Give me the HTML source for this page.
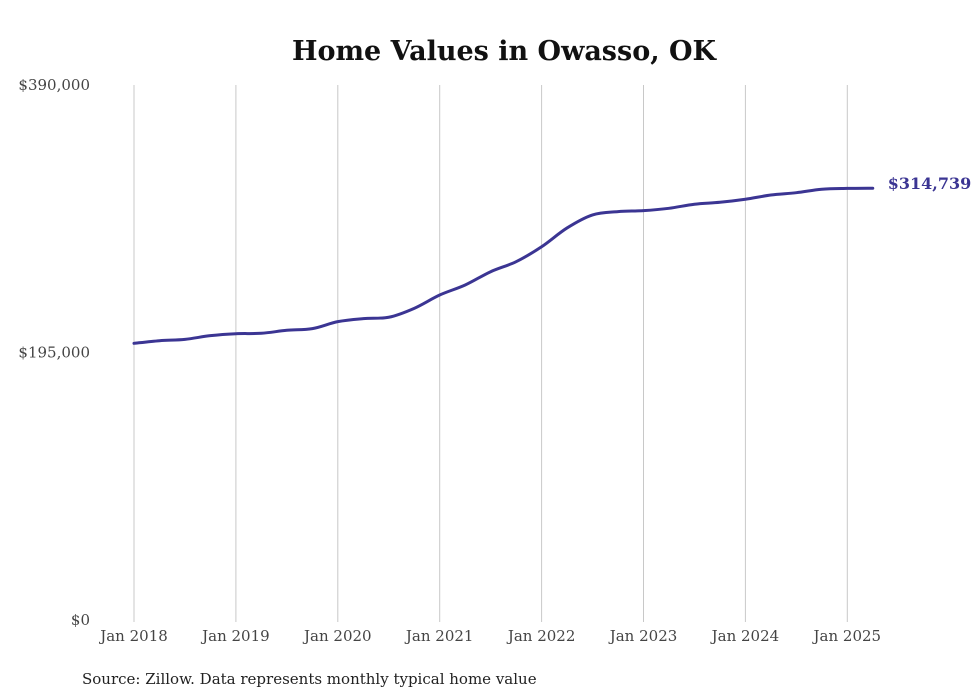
<!DOCTYPE html>
<html><head><meta charset="utf-8"><style>
html,body{margin:0;padding:0;background:#fff;}
svg{display:block;font-family:"DejaVu Serif","Liberation Serif",serif;}
</style></head><body>
<svg id="chart" width="980" height="699">
<text x="504" y="60" text-anchor="middle" font-size="27" font-weight="bold" fill="#111">Home Values in Owasso, OK</text>
<g id="grid"></g><g id="yaxis"></g><g id="xaxis"></g><g id="series"></g>
<text x="82" y="684" font-size="15" fill="#222">Source: Zillow. Data represents monthly typical home value</text>
</svg>
<script>
const yTickValues=[0,195000,390000];
const yTickLabels=["$0","$195,000","$390,000"];
const xTickYears=[2018,2019,2020,2021,2022,2023,2024,2025];
const xTickLabels=["Jan 2018","Jan 2019","Jan 2020","Jan 2021","Jan 2022","Jan 2023","Jan 2024","Jan 2025"];
// quarterly dates (year fractions) and values
const dates=[2018,2018.25,2018.5,2018.75,2019,2019.25,2019.5,2019.75,2020,2020.25,2020.5,2020.75,2021,2021.25,2021.5,2021.75,2022,2022.25,2022.5,2022.75,2023,2023.25,2023.5,2023.75,2024,2024.25,2024.5,2024.75,2025,2025.25];
const values=[201700,203600,204600,207300,208700,209000,211200,212400,217500,219700,220700,227200,236900,244200,253900,261200,272100,285800,295300,297700,298400,300100,303100,304500,306700,309800,311500,314000,314600,314739];
const lastLabel="$314,739";
const NS="http://www.w3.org/2000/svg";
const X=d=>134+(d-2018)*101.9;
const Y=v=>620-v/390000*535;
function mk(tag,attrs,parent,text){const e=document.createElementNS(NS,tag);for(const k in attrs)e.setAttribute(k,attrs[k]);if(text!==undefined)e.textContent=text;parent.appendChild(e);return e;}
const grid=document.getElementById('grid'),ya=document.getElementById('yaxis'),xa=document.getElementById('xaxis'),se=document.getElementById('series');
xTickYears.forEach((yr,i)=>{
  const l=mk('line',{x1:X(yr),x2:X(yr),y1:85,y2:622,stroke:'#c8c8c8','stroke-width':1},grid);
  
  
  const t=mk('text',{x:X(yr),y:641,'text-anchor':'middle','font-size':15,fill:'#444'},xa,xTickLabels[i]);
  
  
});
yTickValues.forEach((v,i)=>{
  const t=mk('text',{x:90,y:Y(v)+5,'text-anchor':'end','font-size':15,fill:'#444'},ya,yTickLabels[i]);
  
  
});
const pts=dates.map((d,i)=>[X(d),Y(values[i])]);
let p='M'+pts[0][0]+','+pts[0][1];
for(let i=0;i<pts.length-1;i++){
  const p0=pts[Math.max(0,i-1)],p1=pts[i],p2=pts[i+1],p3=pts[Math.min(pts.length-1,i+2)];
  const c1=[p1[0]+(p2[0]-p0[0])/6,p1[1]+(p2[1]-p0[1])/6],c2=[p2[0]-(p3[0]-p1[0])/6,p2[1]-(p3[1]-p1[1])/6];
  p+=` C${c1[0]},${c1[1]} ${c2[0]},${c2[1]} ${p2[0]},${p2[1]}`;
}
const path=mk('path',{d:p,fill:'none',stroke:'#3b3593','stroke-width':3,'stroke-linecap':'round'},se);


const last=pts[pts.length-1];
const lbl=mk('text',{x:last[0]+15,y:last[1]+1,'font-size':16,'font-weight':'bold',fill:'#3b3593'},se,lastLabel);


</script>
</body></html>
